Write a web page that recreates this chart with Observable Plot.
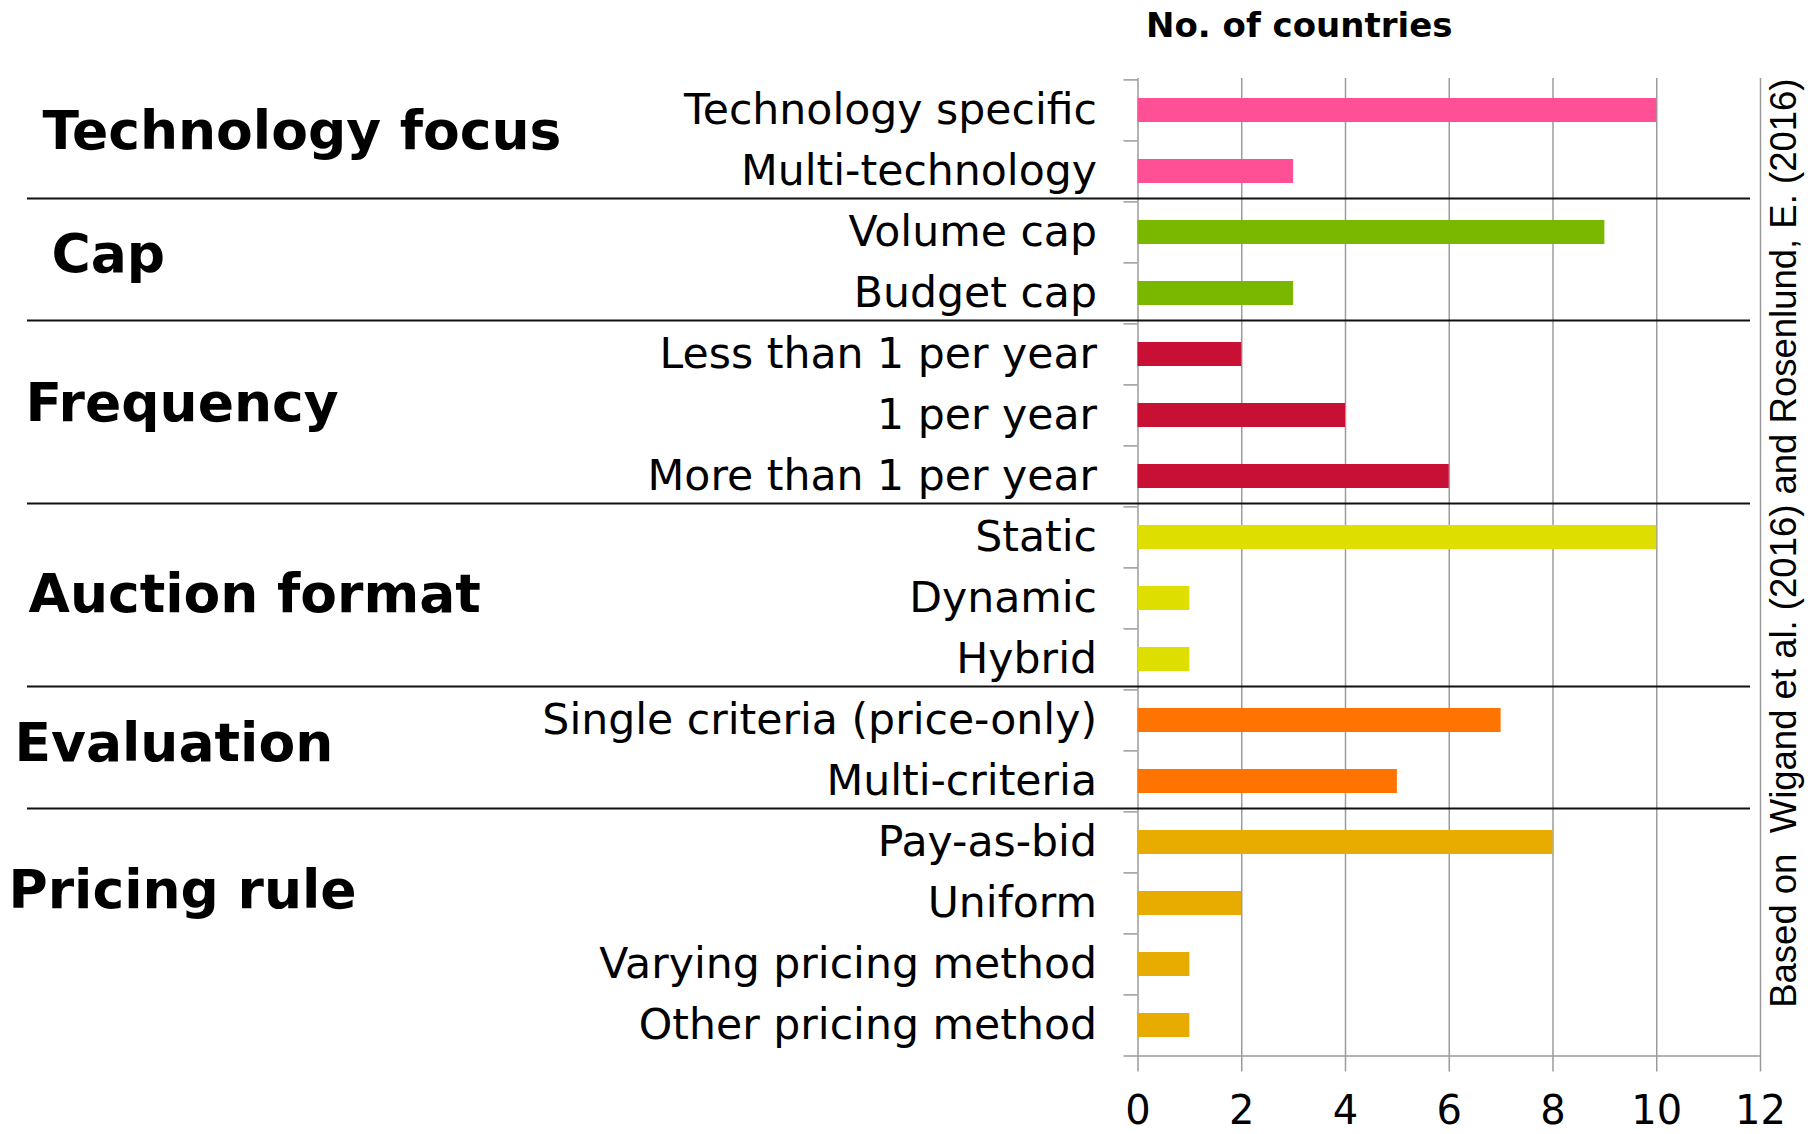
<!DOCTYPE html>
<html>
<head>
<meta charset="utf-8">
<script src="https://cdn.jsdelivr.net/npm/d3@7"></script>
<script src="https://cdn.jsdelivr.net/npm/@observablehq/plot@0.6"></script>
<style>
html, body { margin: 0; padding: 0; background: #fff; }
#chart svg { display: block; }
</style>
</head>
<body>
<div id="chart"></div>
<script>
// ---------- data ----------
const groups = ["Technology focus", "Cap", "Frequency", "Auction format", "Evaluation", "Pricing rule"];
const categories = [
  "Technology specific", "Multi-technology",
  "Volume cap", "Budget cap",
  "Less than 1 per year", "1 per year", "More than 1 per year",
  "Static", "Dynamic", "Hybrid",
  "Single criteria (price-only)", "Multi-criteria",
  "Pay-as-bid", "Uniform", "Varying pricing method", "Other pricing method"
];
const categoryGroup = [
  "Technology focus", "Technology focus",
  "Cap", "Cap",
  "Frequency", "Frequency", "Frequency",
  "Auction format", "Auction format", "Auction format",
  "Evaluation", "Evaluation",
  "Pricing rule", "Pricing rule", "Pricing rule", "Pricing rule"
];
const counts = [10, 3, 9, 3, 2, 4, 6, 10, 1, 1, 7, 5, 8, 2, 1, 1];
const xTicks = [0, 2, 4, 6, 8, 10, 12];
const titleText = "No. of countries";
const sourceText = "Based on\u00a0 Wigand et al. (2016) and Rosenlund, E. (2016)";

// ---------- layout & style ----------
const W = 1814, H = 1134;
const M = {top: 78, right: 54, bottom: 76.5, left: 1137.5};
const step = (H - M.top - M.bottom) / categories.length;
const groupColors = ["#ff5096", "#7ab800", "#c80f34", "#dede00", "#ff7300", "#e8ac00"];
const gridColor = "#9b9b9b";
const sepColor = "#111";
const font = "'DejaVu Sans', sans-serif";
// per-group label placement (left edge in px, vertical nudge in px)
const labelLeft = [42, 51, 25, 28, 14, 8];
const labelNudge = [-9, -8, -12, -4, -7, -43];

const rows = categories.map((c, i) => ({category: c, group: categoryGroup[i], count: counts[i]}));
const groupStarts = rows.filter((d, i) => i > 0 && rows[i - 1].group !== d.group);
const groupMarks = groups.map((g, gi) => {
  const idx = rows.map((d, i) => (d.group === g ? i : -1)).filter(i => i >= 0);
  const mid = (idx[0] + idx[idx.length - 1]) / 2;
  const base = Math.floor(mid);
  return Plot.text([g], {
    y: () => categories[base],
    text: d => d,
    frameAnchor: "left",
    textAnchor: "start",
    lineAnchor: "middle",
    dx: labelLeft[gi] - M.left,
    dy: (mid - base) * step + labelNudge[gi],
    fontFamily: font,
    fontWeight: "bold",
    fontSize: 53.5,
    fill: "#000"
  });
});

const chart = Plot.plot({
  width: W,
  height: H,
  marginTop: M.top,
  marginRight: M.right,
  marginBottom: M.bottom,
  marginLeft: M.left,
  style: {fontFamily: font, background: "#fff", color: "#000"},
  x: {domain: [0, 12], label: null},
  y: {domain: categories, paddingInner: 0.6, paddingOuter: 0.3, label: null},
  color: {domain: groups, range: groupColors},
  marks: [
    // vertical grid lines (incl. left/right axis lines) with ticks below the axis
    Plot.ruleX(xTicks, {x: d => d, stroke: gridColor, strokeWidth: 1.5, insetBottom: -14}),
    // small ticks left of the category axis at row boundaries
    Plot.ruleY(categories, {y: d => d, x1: 0, x2: 0, insetLeft: -14, dy: -step / 2, stroke: gridColor, strokeWidth: 1.5}),
    // bottom axis line
    Plot.ruleY([categories[categories.length - 1]], {y: d => d, dy: step / 2, insetLeft: -14, stroke: gridColor, strokeWidth: 1.5}),
    // bars
    Plot.barX(rows, {x: "count", y: "category", fill: "group"}),
    // group separators
    Plot.ruleY(groupStarts, {y: "category", dy: -step / 2 - 3.5, insetLeft: -(M.left - 27), insetRight: 10, stroke: sepColor, strokeWidth: 2}),
    // axes
    Plot.axisY({tickSize: 0, tickPadding: 41, fontSize: 42.6, label: null}),
    Plot.axisX(xTicks, {anchor: "bottom", tickSize: 0, tickPadding: 38, fontSize: 40, label: null}),
    // group labels
    ...groupMarks,
    // title
    Plot.text([titleText], {
      text: d => d, frameAnchor: "top-left", textAnchor: "start", lineAnchor: "middle",
      dx: 8, dy: 26 - M.top, fontFamily: font, fontWeight: "bold", fontSize: 34, fill: "#000"
    }),
    // source note (rotated)
    Plot.text([sourceText], {
      text: d => d, frameAnchor: "top-right", rotate: -90, textAnchor: "end", lineAnchor: "middle",
      dx: 24, dy: 0, fontFamily: "'Liberation Sans', Arial, sans-serif", fontSize: 36.5, fill: "#000"
    })
  ]
});

document.getElementById("chart").appendChild(chart);
</script>
</body>
</html>
